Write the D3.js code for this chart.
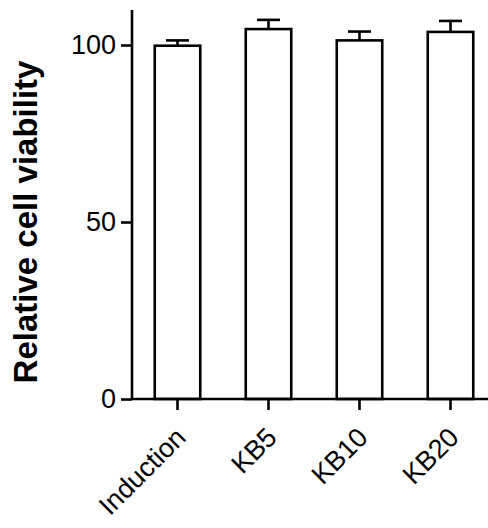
<!DOCTYPE html>
<html><head><meta charset="utf-8">
<script src="https://cdn.jsdelivr.net/npm/d3@7"></script>
<style>body{margin:0;background:#fff}text{font-family:"Liberation Sans",Arial,sans-serif}</style>
</head><body>
<svg id="c" width="488" height="528"></svg>
<script>
const categories = ["Induction", "KB5", "KB10", "KB20"];
const means = [99.8, 104.5, 101.3, 103.7];
const errors = [1.5, 2.6, 2.5, 3.1];
const yTicks = [0, 50, 100];

const svg = d3.select("#c");
const y = d3.scaleLinear().domain([0, 100]).range([399, 45]);
const x = d3.scaleBand().domain(categories).range([132, 496]).paddingInner(0.5).paddingOuter(0.25);

const g = svg.append("g");
g.selectAll("rect.bar").data(categories).enter().append("rect")
  .attr("x", d => x(d)).attr("width", x.bandwidth())
  .attr("y", (d,i) => y(means[i])).attr("height", (d,i) => y(0) - y(means[i]))
  .attr("fill", "#fff").attr("stroke", "#000").attr("stroke-width", 2.6);
const capW = 23;
categories.forEach((d,i) => {
  const cx = x(d) + x.bandwidth()/2;
  g.append("line").attr("x1", cx).attr("x2", cx).attr("y1", y(means[i])).attr("y2", y(means[i]+errors[i]))
    .attr("stroke", "#000").attr("stroke-width", 2.6);
  g.append("line").attr("x1", cx-capW/2).attr("x2", cx+capW/2).attr("y1", y(means[i]+errors[i])).attr("y2", y(means[i]+errors[i]))
    .attr("stroke", "#000").attr("stroke-width", 2.6);
});

const yAxis = d3.axisLeft(y).tickValues(yTicks).tickSize(11).tickPadding(5).tickSizeOuter(0);
const ya = svg.append("g").attr("transform", "translate(132,0)").call(yAxis);
ya.select(".domain").remove();
ya.append("line").attr("x1",0).attr("x2",0).attr("y1",10).attr("y2",y(0)).attr("stroke","#000").attr("stroke-width",2.6);
ya.selectAll(".tick line").attr("stroke-width", 2.6);
ya.selectAll(".tick text").attr("font-size", 27).attr("fill", "#000").attr("font-family", "Liberation Sans, Arial, sans-serif");

const xAxis = d3.axisBottom(x).tickSize(11).tickSizeOuter(0);
const xa = svg.append("g").attr("transform", `translate(0,${y(0)})`).call(xAxis);
xa.select(".domain").remove();
xa.append("line").attr("x1",132).attr("x2",488).attr("y1",0).attr("y2",0).attr("stroke","#000").attr("stroke-width",2.6);
xa.selectAll(".tick line").attr("stroke-width", 2.6);
xa.selectAll(".tick text").attr("font-size", 27).attr("fill", "#000")
  .attr("font-family", "Liberation Sans, Arial, sans-serif")
  .attr("text-anchor", "end").attr("dy", null).attr("y", 0)
  .attr("transform", "translate(10,40) rotate(-45)");

svg.append("text").attr("transform", "translate(37,222) rotate(-90)")
  .attr("text-anchor", "middle").attr("font-size", 33).attr("font-weight", "bold")
  .text("Relative cell viability");
</script>
</body></html>
